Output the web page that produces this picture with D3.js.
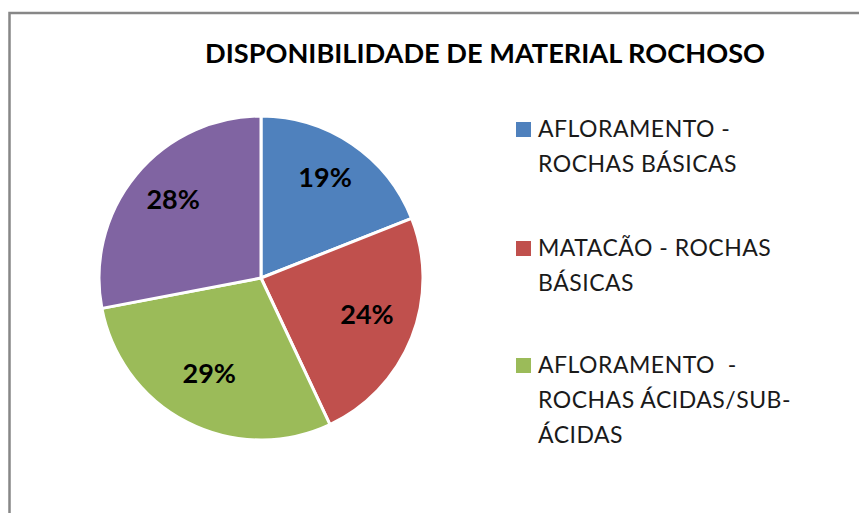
<!DOCTYPE html>
<html>
<head>
<meta charset="utf-8">
<script src="https://cdn.jsdelivr.net/npm/d3@7"></script>
<style>
  html, body { margin: 0; padding: 0; background: #fff; }
  svg { display: block; }
</style>
</head>
<body>
<svg id="chart" width="859" height="513"></svg>
<script>
// ---- data ----
const title = "DISPONIBILIDADE DE MATERIAL ROCHOSO";
const categories = [
  ["AFLORAMENTO -", "ROCHAS BÁSICAS"],
  ["MATACÃO - ROCHAS", "BÁSICAS"],
  ["AFLORAMENTO  -", "ROCHAS ÁCIDAS/SUB-", "ÁCIDAS"],
  ["MATACÃO - ROCHAS", "ÁCIDAS/SUB-ÁCIDAS"]
];
const values = [19, 24, 29, 28];
const colors = ["#4F81BD", "#C0504D", "#9BBB59", "#8064A2"];
const visibleLegendItems = 3;

// ---- layout ----
const svg = d3.select("#chart");
const cx = 261, cy = 278, R = 162;

// outer frame (extends beyond right/bottom of the view)
svg.append("rect")
  .attr("x", 9.5).attr("y", 13)
  .attr("width", 900).attr("height", 600)
  .attr("fill", "none")
  .attr("stroke", "#878787")
  .attr("stroke-width", 2.5);

// title
svg.append("text")
  .attr("x", 485).attr("y", 63)
  .attr("text-anchor", "middle")
  .attr("font-family", "Lato, 'Open Sans', sans-serif")
  .attr("font-weight", "bold")
  .attr("font-size", 26)
  .attr("fill", "#000")
  .attr("textLength", 560)
  .attr("lengthAdjust", "spacingAndGlyphs")
  .text(title);

// pie
const pie = d3.pie().sort(null).value(d => d)(values);
const arc = d3.arc().innerRadius(0).outerRadius(R);
const labelArc = d3.arc().innerRadius(114).outerRadius(114);

const g = svg.append("g").attr("transform", `translate(${cx},${cy})`);
g.selectAll("path.slice")
  .data(pie)
  .join("path")
  .attr("class", "slice")
  .attr("d", arc)
  .attr("fill", (d, i) => colors[i])
  .attr("stroke", "#fff")
  .attr("stroke-width", 3)
  .attr("stroke-linejoin", "round");

g.selectAll("text.lbl")
  .data(pie)
  .join("text")
  .attr("class", "lbl")
  .attr("transform", d => { const c = labelArc.centroid(d); return `translate(${c[0]},${c[1] - 6})`; })
  .attr("text-anchor", "middle")
  .attr("dy", "0.36em")
  .attr("font-family", "Lato, 'Open Sans', sans-serif")
  .attr("font-weight", "bold")
  .attr("font-size", 27)
  .attr("fill", "#000")
  .text(d => d.data + "%");

// legend
const legendX = 516;
const lineH = 35;
const itemY = [137, 256, 373];
const legend = svg.append("g");
categories.slice(0, visibleLegendItems).forEach((lines, i) => {
  const y0 = itemY[i];
  legend.append("rect")
    .attr("x", legendX).attr("y", y0 - 15)
    .attr("width", 15).attr("height", 15)
    .attr("fill", colors[i]);
  const t = legend.append("text")
    .attr("font-family", "Lato, 'Open Sans', sans-serif")
    .attr("font-size", 23)
    .attr("letter-spacing", 0.5)
    .attr("fill", "#1a1a1a")
    .attr("xml:space", "preserve");
  lines.forEach((ln, j) => {
    t.append("tspan")
      .attr("x", legendX + 22)
      .attr("y", y0 + j * lineH)
      .text(ln);
  });
});
</script>
</body>
</html>
